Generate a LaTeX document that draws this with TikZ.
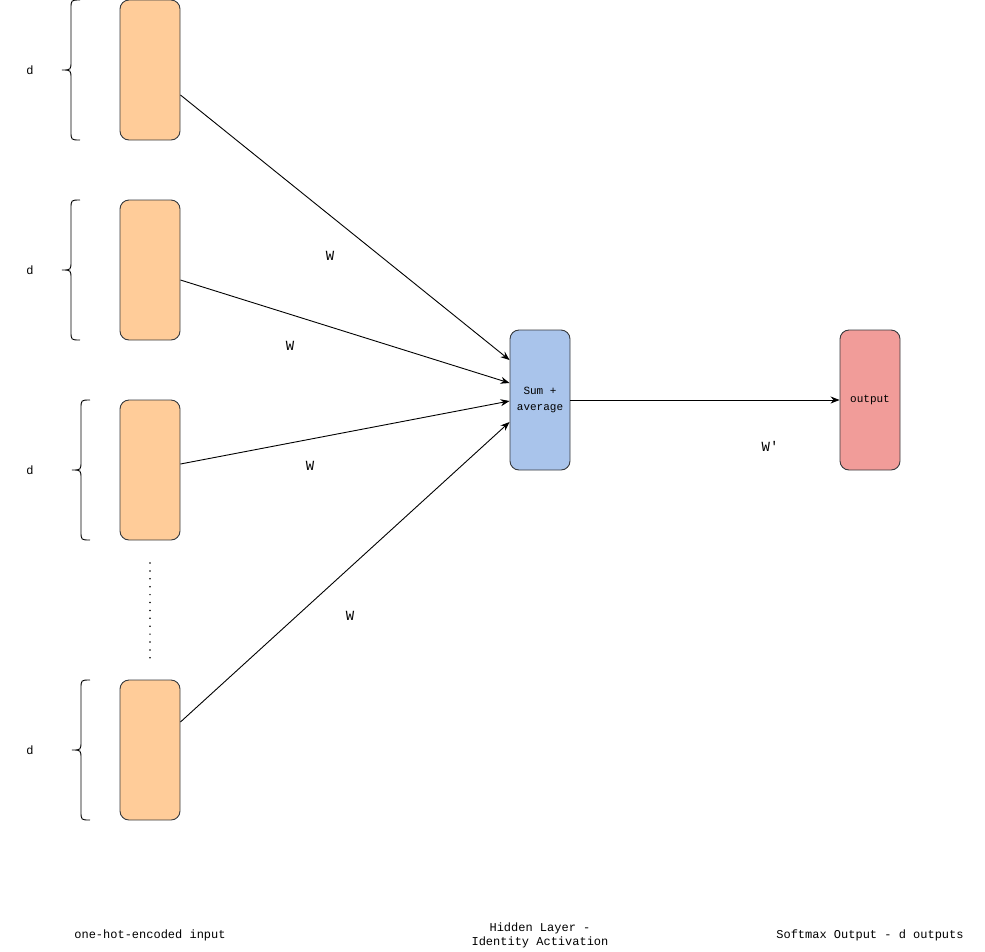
\documentclass[tikz,border=0pt]{standalone}
\usepackage{fontspec}
\setmainfont{Liberation Sans}
\setmonofont{Liberation Mono}
\usepackage{tikz}
\usetikzlibrary{arrows.meta}
\definecolor{inorange}{HTML}{FFCC99}
\definecolor{hidblue}{HTML}{A9C4EB}
\definecolor{outred}{HTML}{F19C99}
\definecolor{boxline}{HTML}{36393D}

\begin{document}
\begin{tikzpicture}[x=1pt,y=-1pt,line width=0.9pt,
		dbrace/.pic={\draw (0,0) .. controls (-9,0) .. (-9,9) -- (-9,61) .. controls (-9,70) .. (-18,70)
			.. controls (-9,70) .. (-9,79) -- (-9,131) .. controls (-9,140) .. (0,140);}]
		\useasboundingbox (0,0) rectangle (985,951);
		\begin{scope}[every node/.style={draw=boxline,rounded corners=9pt,minimum width=60pt,minimum height=140pt,inner sep=0pt,align=center,font=\ttfamily\fontsize{11}{16}\selectfont}]
			\node[fill=inorange] (in1) at (150,70) {};
			\node[fill=inorange] (in2) at (150,270) {};
			\node[fill=inorange] (in3) at (150,470) {};
			\node[fill=inorange] (in4) at (150,750) {};
			\node[fill=hidblue] (hid) at (540,400) {Sum +\\average};
			\node[fill=outred] (out) at (870,400) {output};
		\end{scope}
		
		% braces and d labels
		\pic at (80,0) {dbrace};
		\pic at (80,200) {dbrace};
		\pic at (90,400) {dbrace};
		\pic at (90,680) {dbrace};
		\begin{scope}[every node/.style={font=\fontsize{12}{14}\selectfont}]
			\node (d1) at (30,70) {d};
			\node (d2) at (30,270) {d};
			\node (d3) at (30,470) {d};
			\node (d4) at (30,750) {d};
		\end{scope}
		
		\coordinate (dotstop) at (150,563);
		\coordinate (dotsbot) at (150,660);
		\draw[line width=1.7pt,line cap=round,dash pattern=on 0pt off 7.9pt] (dotstop) -- (dotsbot);
		
		\begin{scope}[>={Stealth[length=9pt,width=7pt]}]
			\draw[->] ([yshift=-25pt]in1.east) -- ([yshift=40pt]hid.west);
			\draw[->] ([yshift=-10pt]in2.east) -- ([yshift=17pt]hid.west);
			\draw[->] ([yshift=6pt]in3.east) -- ([yshift=-1pt]hid.west);
			\draw[->] ([yshift=28pt]in4.east) -- ([yshift=-22pt]hid.west);
			\draw[->] (hid) -- (out);
		\end{scope}
		
		\begin{scope}[every node/.style={font=\ttfamily\fontsize{14}{16}\selectfont}]
			\node (w1) at (330,256) {W};
			\node (w2) at (290,346) {W};
			\node (w3) at (310,466) {W};
			\node (w4) at (350,616) {W};
			\node (w5) at (770,446) {W'};
		\end{scope}
		
		\begin{scope}[every node/.style={align=center,font=\ttfamily\fontsize{12}{14}\selectfont}]
			\node (lin) at (150,935) {one-hot-encoded input};
			\node (lhid) at (540,935) {Hidden Layer -\\Identity Activation};
			\node (lout) at (870,935) {Softmax Output - d outputs};
		\end{scope}
	\end{tikzpicture}
\end{document}
